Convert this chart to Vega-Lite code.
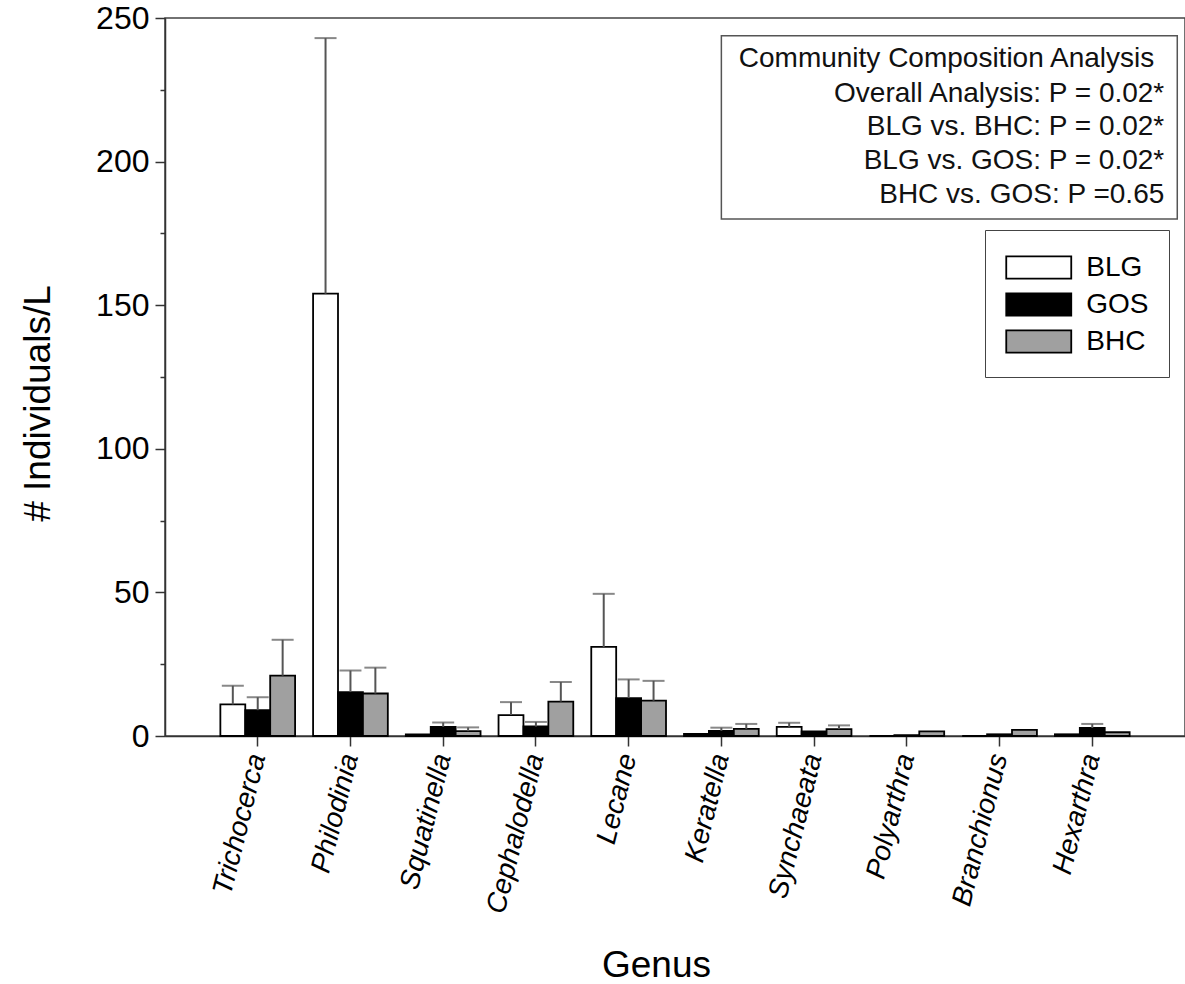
{
  "$schema": "https://vega.github.io/schema/vega-lite/v6.json",
  "autosize": {"type": "none"},
  "width": 1020,
  "height": 718,
  "padding": {"left": 165, "top": 18, "right": 0, "bottom": 248},
  "background": "white",
  "config": {
    "view": {"stroke": "#444", "strokeWidth": 1.5},
    "font": "Liberation Sans",
    "axis": {"domainColor": "#333", "domainWidth": 1.5, "tickColor": "#333", "tickWidth": 1.5, "grid": false, "labelColor": "black", "titleColor": "black", "labelFont": "Liberation Sans", "titleFont": "Liberation Sans", "titleFontWeight": "normal"},
    "legend": {"labelFont": "Liberation Sans"}
  },
  "data": {
    "values": [
      {"genus": "Trichocerca", "site": "BLG", "mean": 11.0, "upper": 17.5},
      {"genus": "Trichocerca", "site": "GOS", "mean": 9.0, "upper": 13.5},
      {"genus": "Trichocerca", "site": "BHC", "mean": 21.0, "upper": 33.5},
      {"genus": "Philodinia", "site": "BLG", "mean": 154.0, "upper": 243.0},
      {"genus": "Philodinia", "site": "GOS", "mean": 15.3, "upper": 22.8},
      {"genus": "Philodinia", "site": "BHC", "mean": 14.8, "upper": 23.8},
      {"genus": "Squatinella", "site": "BLG", "mean": 0.6, "upper": null},
      {"genus": "Squatinella", "site": "GOS", "mean": 3.2, "upper": 4.7},
      {"genus": "Squatinella", "site": "BHC", "mean": 1.7, "upper": 3.0},
      {"genus": "Cephalodella", "site": "BLG", "mean": 7.3, "upper": 11.8},
      {"genus": "Cephalodella", "site": "GOS", "mean": 3.3, "upper": 4.9},
      {"genus": "Cephalodella", "site": "BHC", "mean": 12.0, "upper": 18.8},
      {"genus": "Lecane", "site": "BLG", "mean": 31.0, "upper": 49.5},
      {"genus": "Lecane", "site": "GOS", "mean": 13.2, "upper": 19.7},
      {"genus": "Lecane", "site": "BHC", "mean": 12.3, "upper": 19.2},
      {"genus": "Keratella", "site": "BLG", "mean": 0.7, "upper": null},
      {"genus": "Keratella", "site": "GOS", "mean": 1.8, "upper": 2.9},
      {"genus": "Keratella", "site": "BHC", "mean": 2.5, "upper": 4.2},
      {"genus": "Synchaeata", "site": "BLG", "mean": 3.2, "upper": 4.6},
      {"genus": "Synchaeata", "site": "GOS", "mean": 1.6, "upper": null},
      {"genus": "Synchaeata", "site": "BHC", "mean": 2.4, "upper": 3.7},
      {"genus": "Polyarthra", "site": "BLG", "mean": 0.0, "upper": null},
      {"genus": "Polyarthra", "site": "GOS", "mean": 0.3, "upper": null},
      {"genus": "Polyarthra", "site": "BHC", "mean": 1.6, "upper": null},
      {"genus": "Branchionus", "site": "BLG", "mean": 0.0, "upper": null},
      {"genus": "Branchionus", "site": "GOS", "mean": 0.6, "upper": null},
      {"genus": "Branchionus", "site": "BHC", "mean": 2.1, "upper": null},
      {"genus": "Hexarthra", "site": "BLG", "mean": 0.6, "upper": null},
      {"genus": "Hexarthra", "site": "GOS", "mean": 2.8, "upper": 4.2},
      {"genus": "Hexarthra", "site": "BHC", "mean": 1.3, "upper": null}
    ]
  },
  "layer": [
    {
      "mark": {"type": "bar", "stroke": "black", "strokeWidth": 1.8},
      "encoding": {
        "x": {
          "field": "genus", "type": "nominal",
          "sort": ["Trichocerca", "Philodinia", "Squatinella", "Cephalodella", "Lecane", "Keratella", "Synchaeata", "Polyarthra", "Branchionus", "Hexarthra"],
          "scale": {"paddingInner": 0.194, "paddingOuter": 0.597},
          "axis": {"title": "Genus", "titleFontSize": 37, "titleX": 491, "titleY": 229, "titleBaseline": "middle", "labelAngle": -76, "labelFontSize": 28, "labelFontStyle": "italic", "labelPadding": 8, "tickSize": 10}
        },
        "xOffset": {"field": "site", "type": "nominal", "sort": ["BLG", "GOS", "BHC"], "scale": {"paddingInner": 0, "paddingOuter": 0}},
        "y": {
          "field": "mean", "type": "quantitative",
          "scale": {"domain": [0, 250], "nice": false},
          "axis": {"title": "# Individuals/L", "titleFontSize": 37, "titleX": -127, "titleY": 385, "titleAngle": -90, "titleAlign": "center", "titleBaseline": "middle",
                   "values": [0, 25, 50, 75, 100, 125, 150, 175, 200, 225, 250],
                   "labelExpr": "datum.value % 50 === 0 ? datum.label : ''",
                   "tickSize": {"condition": {"test": "datum.value % 50 === 0", "value": 10}, "value": 5},
                   "labelFontSize": 32, "labelPadding": 6}
        },
        "fill": {
          "field": "site", "type": "nominal", "sort": ["BLG", "GOS", "BHC"],
          "scale": {"domain": ["BLG", "GOS", "BHC"], "range": ["#ffffff", "#000000", "#a0a0a0"]},
          "legend": {"title": null, "orient": "none", "legendX": 820, "legendY": 212, "strokeColor": "#444", "padding": 20,
                     "symbolType": "M-2,-0.68H2V0.68H-2Z", "symbolSize": 1056, "symbolOffset": 16.25, "labelOffset": 30,
                     "symbolStrokeColor": "black", "symbolStrokeWidth": 1.8, "symbolOpacity": 1, "symbolFillColor": "white",
                     "labelFontSize": 28, "labelColor": "black", "rowPadding": 4}
        }
      }
    },
    {
      "transform": [{"filter": "datum.upper != null"}],
      "mark": {"type": "rule", "color": "#555", "strokeWidth": 2},
      "encoding": {
        "x": {"field": "genus", "type": "nominal", "sort": ["Trichocerca", "Philodinia", "Squatinella", "Cephalodella", "Lecane", "Keratella", "Synchaeata", "Polyarthra", "Branchionus", "Hexarthra"]},
        "xOffset": {"field": "site", "type": "nominal", "sort": ["BLG", "GOS", "BHC"]},
        "y": {"field": "mean", "type": "quantitative"},
        "y2": {"field": "upper"}
      }
    },
    {
      "transform": [{"filter": "datum.upper != null"}],
      "mark": {"type": "tick", "color": "#555", "size": 22, "thickness": 2, "orient": "horizontal"},
      "encoding": {
        "x": {"field": "genus", "type": "nominal", "sort": ["Trichocerca", "Philodinia", "Squatinella", "Cephalodella", "Lecane", "Keratella", "Synchaeata", "Polyarthra", "Branchionus", "Hexarthra"]},
        "xOffset": {"field": "site", "type": "nominal", "sort": ["BLG", "GOS", "BHC"]},
        "y": {"field": "upper", "type": "quantitative"}
      }
    },
    {
      "data": {"values": [{"box": "stats"}]},
      "mark": {"type": "rect", "fill": "white", "stroke": "#555", "strokeWidth": 1.5, "xOffset": 0, "x2Offset": 85},
      "encoding": {
        "x": {"datum": "Keratella"},
        "x2": {"datum": "Hexarthra"},
        "y": {"datum": 243.8},
        "y2": {"datum": 180}
      }
    },
    {
      "data": {"values": [{"t": "Community Composition Analysis"}]},
      "mark": {"type": "text", "align": "right", "baseline": "alphabetic", "fontSize": 28, "dx": 62, "color": "#111"},
      "encoding": {
        "x": {"datum": "Hexarthra"},
        "y": {"datum": 233.0},
        "text": {"field": "t"}
      }
    },
    {
      "data": {"values": [{"t": "stats"}]},
      "mark": {"type": "text", "align": "right", "baseline": "alphabetic", "fontSize": 28, "dx": 72, "color": "#111", "lineHeight": 33.7,
               "text": ["Overall Analysis: P = 0.02*", "BLG vs. BHC: P = 0.02*", "BLG vs. GOS: P = 0.02*", "BHC vs. GOS: P =0.65"]},
      "encoding": {
        "x": {"datum": "Hexarthra"},
        "y": {"datum": 220.9}
      }
    }
  ]
}
